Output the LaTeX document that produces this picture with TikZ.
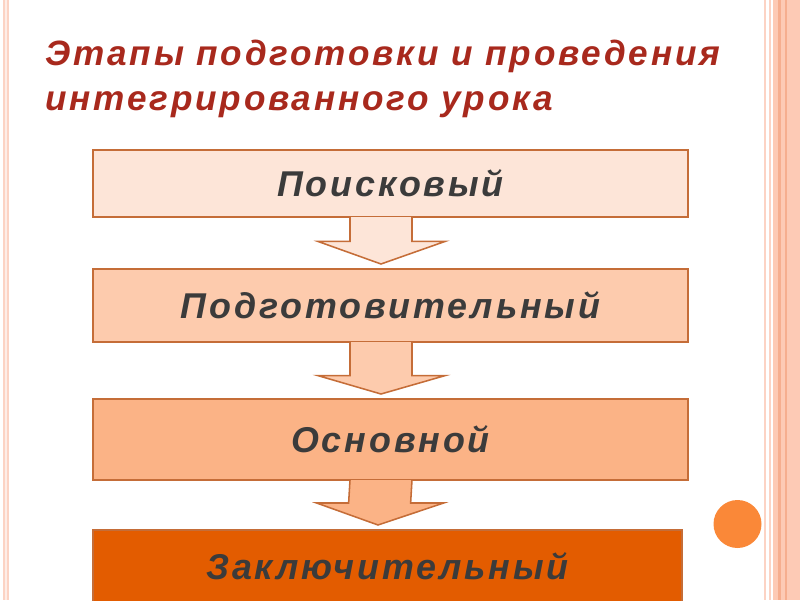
\documentclass[tikz,border=0pt]{standalone}
\usepackage{fontspec}
\setmainfont{Liberation Sans}
\newfontfamily\widesans[LetterSpace=8]{Liberation Sans}
\usetikzlibrary{calc}
\definecolor{titlered}{HTML}{A8291D}
\definecolor{stageline}{HTML}{C56D38}
\definecolor{stageA}{HTML}{FDE5D8}
\definecolor{stageB}{HTML}{FDCBAD}
\definecolor{stageC}{HTML}{FBB386}
\definecolor{stageD}{HTML}{E35C00}
\definecolor{stagetext}{HTML}{3B3B3B}
\definecolor{edgepink}{HTML}{FCD3C4}
\definecolor{bandpink}{HTML}{FDCAB5}
\definecolor{banddark}{HTML}{F6AE8F}
\definecolor{dotorange}{HTML}{FA8838}
\tikzset{
  title/.style={anchor=base west, inner sep=0pt, text=titlered,
    font=\widesans\fontsize{25pt}{30pt}\selectfont\bfseries\itshape},
  stagebox/.style={draw=stageline, line width=1.3pt, inner sep=0pt, outer sep=0pt,
    text=stagetext, font=\widesans\fontsize{25.5pt}{30pt}\selectfont\bfseries\itshape},
  flow/.style={draw=stageline, line width=1.1pt, line join=miter}
}
\begin{document}
\begin{tikzpicture}[x=0.025cm, y=-0.025cm]
\useasboundingbox (0,0) rectangle (800,600);
\clip (0,0) rectangle (800,600);
% slide frame
\fill[edgepink] (3,0) rectangle (9,600);
\fill[white!60!edgepink] (5,0) rectangle (7,600);
\fill[edgepink] (764,0) rectangle (766,600);
\fill[edgepink] (769,0) rectangle (771,600);
\fill[bandpink] (773,0) rectangle (800,600);
\fill[banddark] (778,0) rectangle (781,600);
\fill[banddark] (785,0) rectangle (787,600);
\fill[dotorange] (737.5,524) circle (24);
% heading
\node[title] (head) at (45,65) {Этапы подготовки и проведения};
\node[title] (head2) at (45,110) {интегрированного урока};
% stages
\node[stagebox, fill=stageA, minimum width=14.875cm, minimum height=1.675cm] (search) at (390.5,183.5) {Поисковый};
\node[stagebox, fill=stageB, minimum width=14.875cm, minimum height=1.825cm] (prep) at (390.5,305.5) {Подготовительный};
\node[stagebox, fill=stageC, minimum width=14.875cm, minimum height=2.025cm] (main) at (390.5,439.5) {Основной};
\node[stagebox, fill=stageD, minimum width=14.725cm, minimum height=1.8cm] (final) at (387.5,566) {Заключительный};
% arrows between stages
\foreach \a/\b/\w/\c in {search/prep/0.47/stageA, prep/main/0.59/stageB, main/final/0.46/stageC}
{
  \filldraw[flow, fill=\c] ($(\a.south)+(-40.5,0)$) -- ($(\a.south)!\w!(\b.north)+(-40.5,0)$)
    -- ($(\a.south)!\w!(\b.north)+(-72.5,0)$) -- ($(\b.north)+(-9.5,-5)$)
    -- ($(\a.south)!\w!(\b.north)+(54.5,0)$) -- ($(\a.south)!\w!(\b.north)+(21.5,0)$)
    -- ($(\a.south)+(21.5,0)$);
}
\end{tikzpicture}
\end{document}
